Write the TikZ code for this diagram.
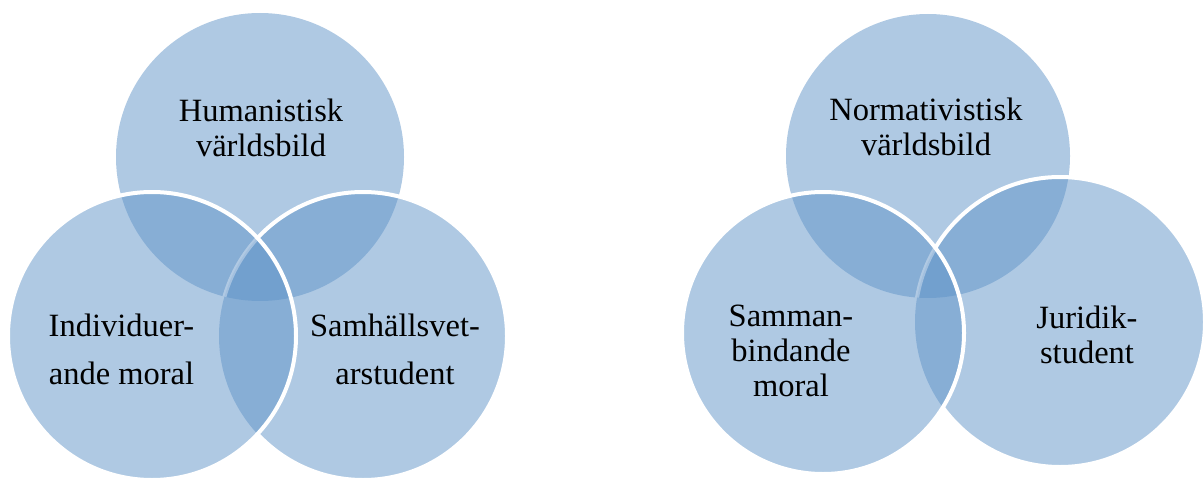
\documentclass[tikz,border=0pt]{standalone}
\usepackage{fontspec}
\usepackage{xcolor}
\usepackage{tikz}
\setmainfont{Liberation Serif}
\definecolor{vennblue}{RGB}{95,147,199}

\begin{document}
\begin{tikzpicture}[x=1pt, y=-1pt]
    % Define the styles for the sets and texts
    \tikzstyle{set} = [circle, fill=vennblue, fill opacity=0.5, inner sep=0pt, minimum size=288pt]
    \tikzstyle{rim} = [draw=white, line width=4pt]
    \tikzstyle{vtext} = [text=black, align=center, anchor=base, font=\fontsize{32.5}{35}\selectfont]
    \tikzstyle{widevtext} = [vtext, font=\fontsize{32.5}{48}\selectfont]

    \useasboundingbox (0,0) rectangle (1204,481);

    % Left diagram
    \node [set] (hum) at (260,157) {};
    \node [set] (ind) at (152,336) {};
    \node [set] (sam) at (363,336) {};
    \begin{scope}[even odd rule]
        \clip (0,0) rectangle (1204,481) (ind.center) circle (144pt);
        \draw [rim] (sam.center) circle (144pt);
    \end{scope}
    \begin{scope}
        \clip (ind.center) circle (144pt);
        \clip (hum.center) circle (144pt);
        \draw [rim, draw opacity=0.35] (sam.center) circle (144pt);
    \end{scope}
    \draw [rim] (ind.center) circle (144pt);

    \node [vtext] (humtext) at (261,157) {Humanistisk\\världsbild};
    \node [widevtext] (indtext) at (121.5,384) {Individuer-\\ande moral};
    \node [widevtext] (samtext) at (395,384) {Samhällsvet-\\arstudent};

    % Right diagram
    \node [set, minimum size=284pt] (norm) at (928,156) {};
    \node [set, minimum size=282pt] (samm) at (823,333) {};
    \node [set, minimum size=290pt] (jur) at (1060,322) {};
    \begin{scope}[even odd rule]
        \clip (0,0) rectangle (1204,481) (samm.center) circle (141pt);
        \draw [rim] (jur.center) circle (145pt);
    \end{scope}
    \begin{scope}
        \clip (samm.center) circle (141pt);
        \clip (norm.center) circle (142pt);
        \draw [rim, draw opacity=0.35] (jur.center) circle (145pt);
    \end{scope}
    \draw [rim] (samm.center) circle (141pt);

    \node [vtext] (normtext) at (926,156) {Normativistisk\\världsbild};
    \node [vtext] (sammtext) at (791,396) {Samman-\\bindande\\moral};
    \node [vtext] (jurtext) at (1087,363) {Juridik-\\student};
\end{tikzpicture}
\end{document}
